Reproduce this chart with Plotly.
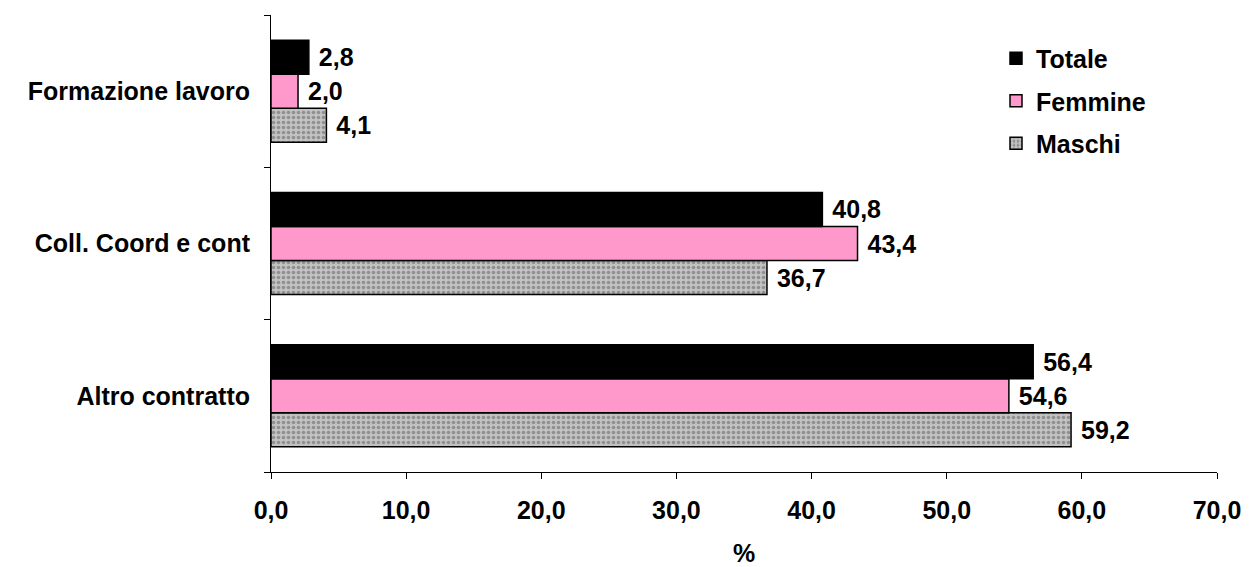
import plotly.graph_objects as go

categories = ["Altro contratto", "Coll. Coord e cont", "Formazione lavoro"]
totale = [56.4, 40.8, 2.8]
femmine = [54.6, 43.4, 2.0]
maschi = [59.2, 36.7, 4.1]
x_ticks = [0, 10, 20, 30, 40, 50, 60, 70]

def lab(vals):
    return [" " + f"{v:.1f}".replace(".", ",") for v in vals]

FONT = "Liberation Sans"
FS = 25
bold = dict(family=FONT, size=FS, color="black", weight="bold")

fig = go.Figure()
fig.add_trace(go.Bar(
    y=categories, x=maschi, name="Maschi", orientation="h", legendgroup="m", legendrank=3,
    text=lab(maschi), textposition="outside",
    marker=dict(color="#b0b0b0", line=dict(color="black", width=1.5),
                pattern=dict(shape=".", fgcolor="#5e5e5e", bgcolor="#c2c2c2", size=5, solidity=0.4)),
))
fig.add_trace(go.Bar(
    y=categories, x=femmine, name="Femmine", orientation="h", legendgroup="f", legendrank=2,
    text=lab(femmine), textposition="outside",
    marker=dict(color="#ff99cc", line=dict(color="black", width=1.5)),
))
fig.add_trace(go.Bar(
    y=categories, x=totale, name="Totale", orientation="h", legendgroup="t", legendrank=1,
    text=lab(totale), textposition="outside",
    marker=dict(color="black", line=dict(color="black", width=1.5)),
))

fig.update_traces(textfont=bold, cliponaxis=False)

fig.update_layout(
    width=1255, height=567,
    margin=dict(l=271, r=38, t=15, b=95),
    paper_bgcolor="white", plot_bgcolor="white",
    barmode="group", bargap=0.33, bargroupgap=0,
    font=bold,
    separators=",.",
    showlegend=True,
    legend=dict(x=(996 - 271) / 946, y=0.955, xanchor="left", yanchor="top",
                traceorder="grouped", font=bold,
                bgcolor="rgba(0,0,0,0)", tracegroupgap=7),
    xaxis=dict(range=[0, 70], tickvals=x_ticks, tickformat=".1f", automargin=False,
               showgrid=False, zeroline=False, showline=True, linecolor="black", linewidth=1,
               ticks="outside", ticklen=6, tickcolor="black",
               tickfont=bold, ticklabelstandoff=10,
               title=dict(text="%", font=bold, standoff=28)),
    yaxis=dict(type="category", categoryorder="array", categoryarray=categories, automargin=False,
               showgrid=False, showline=True, linecolor="black", linewidth=1,
               ticks="outside", ticklen=6, tickcolor="black", tickson="boundaries",
               tickfont=bold, ticklabelstandoff=15),
)

fig.write_html("out.html")
